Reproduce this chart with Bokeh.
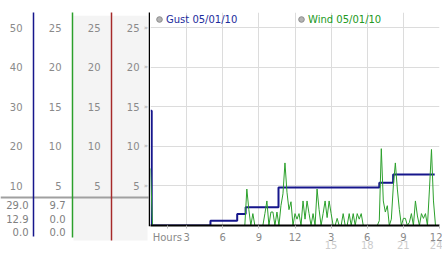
from bokeh.plotting import figure
from bokeh.models import (Range1d, LinearAxis, FixedTicker, Legend, LegendItem,
                          Grid, AllLabels)
from bokeh.layouts import row
from bokeh.embed import file_html
from bokeh.resources import INLINE
from bokeh.core.properties import value

# ---------------- data ----------------
# Gust (mph) as a stepped series: change points in hours since midnight
gust_hours = [0.0, 0.1, 4.98, 7.2, 7.9, 10.63, 19.0, 20.15, 23.6]
gust_mph = [29.0, 0.0, 1.2, 2.9, 4.6, 9.6, 10.8, 12.9, 12.9]

# Wind (mph), one sample every 10 minutes starting at 0:00
wind_interval_min = 10
wind_mph = [
    7.2, 0, 0, 0, 0, 0, 0, 0, 0, 0,
    0, 0, 0, 0, 0, 0, 0, 0, 0, 0,
    0, 0, 0, 0, 0, 0, 0, 0, 0, 0,
    0, 0, 0, 0, 0, 0, 0, 0, 0, 0,
    0, 0, 0, 0, 0, 0, 0, 0, 4.6, 2.0,
    0, 1.5, 0, 0, 0, 0, 0, 1.5, 3.1, 0,
    1.7, 1.7, 0, 1.7, 0, 2.5, 4.0, 7.9, 4.2, 2.0,
    3.0, 0, 1.5, 0.8, 1.5, 0, 3.1, 0.8, 3.1, 1.5,
    0, 1.5, 0, 4.6, 2.0, 0, 1.5, 3.1, 1.0, 3.1,
    1.5, 0, 0, 0.9, 0, 0, 1.5, 0, 0, 1.5,
    0, 1.5, 0, 1.5, 0.8, 1.5, 0, 0, 0, 0,
    0, 0, 0, 0, 0.6, 9.7, 3.1, 1.7, 2.5, 0,
    0.8, 5.0, 7.9, 4.6, 2.0, 0, 0.9, 0.9, 0, 0.4,
    1.5, 0, 3.1, 1.2, 0, 1.5, 0.9, 1.5, 0, 4.6,
    9.6, 3.1, 0,
]
wind_hours = [i * wind_interval_min / 60.0 for i in range(len(wind_mph))]

gust_ticks = [10, 20, 30, 40, 50]
wind_ticks = [5, 10, 15, 20, 25]
hour_ticks = [3, 6, 9, 12, 15, 18, 21, 24]
hour_labels = ["3", "6", "9", "12", "3", "6", "9", "12"]
pm_ticks = [15, 18, 21, 24]
pm_labels = ["15", "18", "21", "24"]
gust_legend = "Gust 05/01/10"
wind_legend = "Wind 05/01/10"
x_title = "Hours"
x_title_at = 1.4  # hours, where the axis title sits

gust_stats = ["%.1f" % v for v in (max(gust_mph), gust_mph[-1], min(gust_mph))]
wind_stats = ["%.1f" % v for v in (max(wind_mph), wind_mph[-1], min(wind_mph))]

# ---------------- styles ----------------
FONT = value("DejaVu Sans")
FS = "10px"
BLUE = "#16168c"
BLUE_TXT = "#1c2c9c"
GREEN = "#2ca02c"
GREEN_TXT = "#229922"
RED = "#a52a2a"
GRID = "#dcdcdc"
LABEL = "#8a8a8a"

H = 253
FRAME_TOP = 12
FRAME_BOTTOM = 225
PX_PER_UNIT = 198 / 25.0
W_GRID_TOP = 200 / PX_PER_UNIT
W_MAX = (FRAME_BOTTOM - FRAME_TOP) / PX_PER_UNIT
left_lo = -(H - FRAME_BOTTOM) / PX_PER_UNIT
left_hi = FRAME_BOTTOM / PX_PER_UNIT

# ---------------- left scale panel ----------------
lf = figure(width=150, height=H, x_range=Range1d(0, 150), y_range=Range1d(left_lo, left_hi),
            output_backend="svg", toolbar_location=None, min_border=0,
            x_axis_type=None, y_axis_type=None, outline_line_color=None,
            background_fill_color="white", border_fill_color="white")
lf.frame_align = False
lf.title.visible = False
lf.extra_y_ranges = {"gust": Range1d(2 * left_lo, 2 * left_hi)}

top_v = W_MAX - 0.4
shade_bottom = -1.9
lf.quad(left=[73, 112], right=[110, 147], bottom=shade_bottom, top=top_v,
        fill_color="#f4f4f4", line_color=None)

sep_v = (H - FRAME_BOTTOM) / PX_PER_UNIT
lf.segment(x0=[0], x1=[148], y0=[sep_v], y1=[sep_v], line_color="#a0a0a0", line_width=2)

lf.segment(x0=[33, 72, 111], x1=[33, 72, 111], y0=[W_MAX] * 3,
           y1=[-1.39, -1.52, -1.9], line_color=[BLUE, GREEN, RED], line_width=1.5)
lf.segment(x0=[149], x1=[149], y0=[W_MAX], y1=[-0.1], line_color="black", line_width=1.5)

lf.text(x=[22] * len(gust_ticks), y=gust_ticks, text=[str(t) for t in gust_ticks],
        y_range_name="gust", text_align="right", text_baseline="middle",
        text_font=FONT, text_font_size=FS, text_color=LABEL)
for xr in (61, 100, 139):
    lf.text(x=[xr] * len(wind_ticks), y=wind_ticks, text=[str(t) for t in wind_ticks],
            text_align="right", text_baseline="middle",
            text_font=FONT, text_font_size=FS, text_color=LABEL)
lf.text(x=[145.5] * len(wind_ticks), y=wind_ticks, text=["»"] * len(wind_ticks),
        text_align="center", text_baseline="middle",
        text_font=FONT, text_font_size="7px", text_color="#aaaaaa")

stat_rows = [2.53, 0.76, -0.88]
lf.text(x=[28] * 3, y=stat_rows, text=gust_stats, text_align="right", text_baseline="middle",
        text_font=FONT, text_font_size=FS, text_color="#808080")
lf.text(x=[65] * 3, y=stat_rows, text=wind_stats, text_align="right", text_baseline="middle",
        text_font=FONT, text_font_size=FS, text_color="#808080")

# ---------------- main chart ----------------
p = figure(width=292, height=H, x_range=Range1d(0, 24), y_range=Range1d(0, W_MAX),
           output_backend="svg", toolbar_location=None, x_axis_type=None, y_axis_type=None,
           min_border_left=0, min_border_right=3, min_border_top=FRAME_TOP,
           min_border_bottom=H - FRAME_BOTTOM,
           outline_line_color=None, background_fill_color="white", border_fill_color="white")
p.frame_align = False
p.title.visible = False
p.extra_y_ranges = {"gust": Range1d(0, 2 * W_MAX)}

p.add_layout(Grid(dimension=0, ticker=FixedTicker(ticks=hour_ticks), grid_line_color=GRID,
                  bounds=(0, W_GRID_TOP)))
p.add_layout(Grid(dimension=1, ticker=FixedTicker(ticks=wind_ticks), grid_line_color=GRID))

row1_ticks = [x_title_at] + hour_ticks
row1_labels = [x_title] + hour_labels
xa = LinearAxis(ticker=FixedTicker(ticks=row1_ticks, minor_ticks=[]),
                major_label_overrides={t: l for t, l in zip(row1_ticks, row1_labels)},
                major_label_policy=AllLabels())
xa.axis_line_color = "black"
xa.axis_line_width = 2
xa.major_tick_out = 3
xa.major_tick_in = 0
xa.major_tick_line_color = "#bbbbbb"
xa.minor_tick_line_color = None
xa.major_label_standoff = 3
xa.major_label_text_font = "DejaVu Sans"
xa.major_label_text_font_size = FS
xa.major_label_text_color = LABEL
p.add_layout(xa, "below")

xb = LinearAxis(ticker=FixedTicker(ticks=pm_ticks, minor_ticks=[]),
                major_label_overrides={t: l for t, l in zip(pm_ticks, pm_labels)},
                major_label_policy=AllLabels())
xb.axis_line_color = None
xb.major_tick_line_color = None
xb.minor_tick_line_color = None
xb.major_tick_out = 0
xb.major_tick_in = 0
xb.major_label_standoff = -5
xb.major_label_text_font = "DejaVu Sans"
xb.major_label_text_font_size = FS
xb.major_label_text_color = "#cccccc"
p.add_layout(xb, "below")

p.step(gust_hours, gust_mph, mode="after", y_range_name="gust", line_color=BLUE, line_width=2)
p.line(wind_hours, wind_mph, line_color=GREEN, line_width=1)

nan = float("nan")
dot_g = p.scatter([nan], [nan], marker="circle", size=6, fill_color="#b4b4b4", line_color="#8c8c8c")
dot_w = p.scatter([nan], [nan], marker="circle", size=6, fill_color="#b4b4b4", line_color="#8c8c8c")
for item, rend, col, loc in ((gust_legend, dot_g, BLUE_TXT, (2, 199)),
                             (wind_legend, dot_w, GREEN_TXT, (144, 199))):
    lg = Legend(items=[LegendItem(label=value(item), renderers=[rend])], location=loc,
                padding=0, margin=0, spacing=0, glyph_width=14, glyph_height=14,
                label_standoff=0, label_height=10, label_text_font="DejaVu Sans",
                label_text_font_size=FS, label_text_color=col,
                background_fill_alpha=0, border_line_color=None)
    p.add_layout(lg)

layout = row(lf, p)
open("out.html", "w").write(file_html(layout, INLINE))
